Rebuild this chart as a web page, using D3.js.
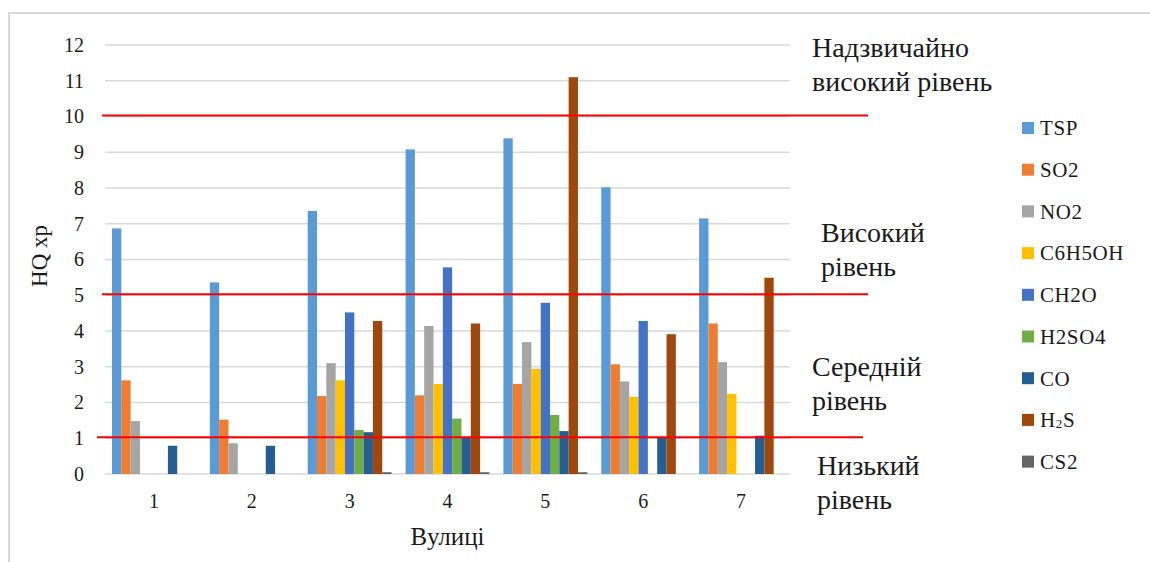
<!DOCTYPE html>
<html>
<head>
<meta charset="utf-8">
<script src="https://cdn.jsdelivr.net/npm/d3@7"></script>
<style>
  body { margin: 0; background: #fff; }
  svg text { font-family: "Liberation Serif", Tinos, "Times New Roman", "DejaVu Serif", serif; fill: #1a1a1a; }
</style>
</head>
<body>
<div id="container"></div>
<script>
let streets = ["1", "2", "3", "4", "5", "6", "7"];
let pollutants = ["TSP", "SO2", "NO2", "C6H5OH", "CH2O", "H2SO4", "CO", "H2S", "CS2"];

let tsp    = [6.87, 5.36, 7.36, 9.08, 9.39, 8.02, 7.15];
let so2    = [2.62, 1.52, 2.18, 2.20, 2.52, 3.07, 4.21];
let no2    = [1.48, 0.86, 3.10, 4.14, 3.69, 2.59, 3.13];
let phenol = [0, 0, 2.62, 2.52, 2.94, 2.16, 2.24];
let ch2o   = [0, 0, 4.52, 5.78, 4.79, 4.28, 0];
let h2so4  = [0, 0, 1.23, 1.55, 1.65, 0, 0];
let co     = [0.79, 0.79, 1.17, 1.01, 1.20, 1.03, 1.07];
let h2s    = [0, 0, 4.28, 4.21, 11.10, 3.91, 5.49];
let cs2    = [0, 0, 0.05, 0.05, 0.05, 0, 0];

let yTicks = [0, 1, 2, 3, 4, 5, 6, 7, 8, 9, 10, 11, 12];
let thresholds = [1, 5, 10];
let levelNames = [
  ["Надзвичайно", "високий рівень"],
  ["Високий", "рівень"],
  ["Середній", "рівень"],
  ["Низький", "рівень"]
];

let seriesValues = [tsp, so2, no2, phenol, ch2o, h2so4, co, h2s, cs2];
let colors = ["#5B9BD5", "#ED7D31", "#A5A5A5", "#FFC000", "#4472C4", "#70AD47", "#255E91", "#9E480E", "#636363"];

let serif = '"Liberation Serif", Tinos, "Times New Roman", "DejaVu Serif", serif';

let w = 1150;
let h = 562;
let plot = { left: 105, right: 790, top: 45, bottom: 474 };

let svg = d3.select("#container")
  .append("svg")
  .attr("width", w)
  .attr("height", h)
  .attr("font-family", serif);

// outer frame (only left & top edges are visible)
svg.append("rect")
  .attr("x", 9).attr("y", 13)
  .attr("width", w + 20).attr("height", h + 20)
  .attr("fill", "none")
  .attr("stroke", "#d9d9d9")
  .attr("stroke-width", 2);

let xScale = d3.scaleBand()
  .domain(streets)
  .range([plot.left, plot.right]);

let yScale = d3.scaleLinear()
  .domain([0, 12])
  .range([plot.bottom, plot.top]);

let barW = xScale.bandwidth() / (pollutants.length + 1.5);
let inner = d3.scaleBand()
  .domain(pollutants)
  .range([barW * 0.75, xScale.bandwidth() - barW * 0.75]);

// gridlines
svg.append("g")
  .selectAll("line")
  .data(yTicks)
  .join("line")
  .attr("x1", plot.left)
  .attr("x2", plot.right)
  .attr("y1", d => yScale(d))
  .attr("y2", d => yScale(d))
  .attr("stroke", "#d9d9d9")
  .attr("stroke-width", 1.5);

// y axis labels
let yAxis = svg.append("g")
  .attr("transform", "translate(" + (plot.left - 2) + ",0)")
  .call(d3.axisLeft(yScale).tickValues(yTicks).tickSize(0).tickPadding(19));
yAxis.attr("font-family", serif).attr("font-size", 20);
yAxis.select(".domain").remove();
yAxis.selectAll("text").attr("fill", "#1a1a1a");

// x axis labels
let xAxis = svg.append("g")
  .attr("transform", "translate(0," + plot.bottom + ")")
  .call(d3.axisBottom(xScale).tickSize(0).tickPadding(20));
xAxis.attr("font-family", serif).attr("font-size", 20);
xAxis.select(".domain").remove();
xAxis.selectAll("text").attr("fill", "#1a1a1a");

// bars
let groups = svg.append("g")
  .selectAll("g")
  .data(seriesValues)
  .join("g")
  .attr("fill", (d, i) => colors[i]);

groups.each(function (vals, si) {
  d3.select(this).selectAll("rect")
    .data(vals.map((v, ci) => ({ street: streets[ci], v: v })).filter(d => d.v > 0))
    .join("rect")
    .attr("x", d => xScale(d.street) + inner(pollutants[si]))
    .attr("width", inner.bandwidth())
    .attr("y", d => yScale(d.v))
    .attr("height", d => yScale(0) - yScale(d.v));
});

// threshold lines
svg.append("g")
  .selectAll("line")
  .data(thresholds)
  .join("line")
  .attr("x1", d => d === 1 ? 97 : 102)
  .attr("x2", d => d === 1 ? 863 : 868)
  .attr("y1", d => yScale(d) - 1)
  .attr("y2", d => yScale(d) - 1)
  .attr("stroke", "#ff0000")
  .attr("stroke-width", 2.2);

// level labels on the right
let levelAnchor = [11.67, 6.49, 2.74, -0.03];
let levelX = [812, 821, 812, 817];
levelNames.forEach((lines, i) => {
  let t = svg.append("text")
    .attr("x", levelX[i])
    .attr("y", yScale(levelAnchor[i]))
    .attr("font-size", 28);
  lines.forEach((line, j) => {
    t.append("tspan")
      .attr("x", levelX[i])
      .attr("dy", j === 0 ? 0 : 34)
      .text(line);
  });
});

// axis titles
svg.append("text")
  .attr("transform", "translate(47,256) rotate(-90)")
  .attr("text-anchor", "middle")
  .attr("font-size", 23)
  .text("HQ xp");

svg.append("text")
  .attr("x", (plot.left + plot.right) / 2)
  .attr("y", 545)
  .attr("text-anchor", "middle")
  .attr("font-size", 25)
  .text("Вулиці");

// legend
let legend = svg.append("g")
  .attr("transform", "translate(1022,128)");

let item = legend.selectAll("g")
  .data(pollutants)
  .join("g")
  .attr("transform", (d, i) => "translate(0," + (i * 41.7) + ")");

item.append("rect")
  .attr("x", 0).attr("y", -6)
  .attr("width", 12).attr("height", 12)
  .attr("fill", (d, i) => colors[i]);

item.append("text")
  .attr("x", 18)
  .attr("y", 0)
  .attr("dy", "0.35em")
  .attr("font-size", 21)
  .attr("letter-spacing", 0.6)
  .each(function (d) {
    let t = d3.select(this);
    if (d === "H2S") {
      t.append("tspan").text("H");
      t.append("tspan").text("2").attr("font-size", 13).attr("dy", 1);
      t.append("tspan").text("S").attr("dy", -1);
    } else {
      t.text(d);
    }
  });
</script>
</body>
</html>
